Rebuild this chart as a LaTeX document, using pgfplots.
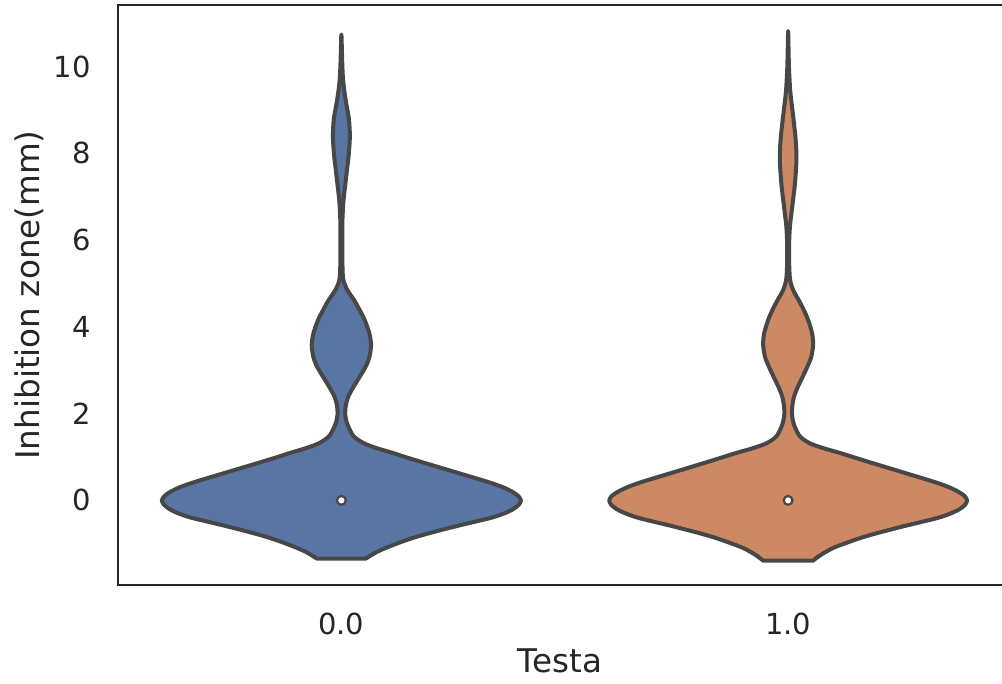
\documentclass[border=0pt]{standalone}
\usepackage{fontspec}
\setmainfont{DejaVu Sans}
\usepackage{pgfplots}
\usepackage{pgfplotstable}
\pgfplotsset{compat=1.18}
\usetikzlibrary{calc}
\definecolor{vblue}{HTML}{5875A4}
\definecolor{vorange}{HTML}{CC8963}
\definecolor{vgray}{HTML}{474747}
\definecolor{frame}{HTML}{262626}

% violin outline: right side upwards, then left side downwards (y, half width)
\pgfplotstableread{
y w
-1.34 0.0550
-1.20 0.0772
-1.10 0.0984
-1.00 0.1230
-0.90 0.1499
-0.80 0.1812
-0.70 0.2170
-0.60 0.2550
-0.50 0.2953
-0.40 0.3356
-0.30 0.3647
-0.20 0.3848
-0.10 0.3971
0.00 0.4018
0.10 0.3960
0.20 0.3826
0.30 0.3624
0.40 0.3356
0.50 0.3043
0.60 0.2718
0.70 0.2394
0.80 0.2069
0.90 0.1745
1.00 0.1432
1.10 0.1130
1.20 0.0805
1.30 0.0537
1.40 0.0369
1.50 0.0257
1.65 0.0179
1.80 0.0119
2.00 0.0085
2.20 0.0101
2.40 0.0157
2.61 0.0268
2.80 0.0380
3.07 0.0537
3.30 0.0626
3.58 0.0664
3.85 0.0626
4.16 0.0521
4.40 0.0403
4.62 0.0284
4.85 0.0134
5.08 0.0045
5.40 0.0025
6.00 0.0020
6.50 0.0025
6.93 0.0049
7.24 0.0083
7.60 0.0123
7.95 0.0163
8.39 0.0190
8.80 0.0168
9.16 0.0107
9.50 0.0058
9.80 0.0031
10.20 0.0016
10.74 0.0000
10.20 -0.0016
9.80 -0.0031
9.50 -0.0058
9.16 -0.0107
8.80 -0.0168
8.39 -0.0190
7.95 -0.0163
7.60 -0.0123
7.24 -0.0083
6.93 -0.0049
6.50 -0.0025
6.00 -0.0020
5.40 -0.0025
5.08 -0.0045
4.85 -0.0134
4.62 -0.0284
4.40 -0.0403
4.16 -0.0521
3.85 -0.0626
3.58 -0.0664
3.30 -0.0626
3.07 -0.0537
2.80 -0.0380
2.61 -0.0268
2.40 -0.0157
2.20 -0.0101
2.00 -0.0085
1.80 -0.0119
1.65 -0.0179
1.50 -0.0257
1.40 -0.0369
1.30 -0.0537
1.20 -0.0805
1.10 -0.1130
1.00 -0.1432
0.90 -0.1745
0.80 -0.2069
0.70 -0.2394
0.60 -0.2718
0.50 -0.3043
0.40 -0.3356
0.30 -0.3624
0.20 -0.3826
0.10 -0.3960
0.00 -0.4018
-0.10 -0.3971
-0.20 -0.3848
-0.30 -0.3647
-0.40 -0.3356
-0.50 -0.2953
-0.60 -0.2550
-0.70 -0.2170
-0.80 -0.1812
-0.90 -0.1499
-1.00 -0.1230
-1.10 -0.0984
-1.20 -0.0772
-1.34 -0.0550
}\violinA

\pgfplotstableread{
y w
-1.39 0.0555
-1.25 0.0740
-1.10 0.1000
-1.00 0.1250
-0.90 0.1520
-0.80 0.1830
-0.70 0.2190
-0.60 0.2570
-0.50 0.2970
-0.40 0.3360
-0.30 0.3640
-0.20 0.3840
-0.10 0.3960
0.00 0.4005
0.10 0.3950
0.20 0.3810
0.30 0.3610
0.40 0.3350
0.50 0.3040
0.60 0.2720
0.70 0.2400
0.80 0.2080
0.90 0.1760
1.00 0.1450
1.10 0.1140
1.20 0.0800
1.30 0.0520
1.40 0.0350
1.50 0.0245
1.65 0.0170
1.80 0.0115
2.00 0.0085
2.20 0.0096
2.40 0.0134
2.61 0.0213
2.80 0.0302
3.07 0.0425
3.30 0.0515
3.58 0.0559
3.85 0.0537
4.16 0.0447
4.40 0.0347
4.62 0.0235
4.85 0.0112
5.08 0.0045
5.40 0.0025
5.90 0.0022
6.31 0.0040
6.60 0.0072
6.90 0.0107
7.30 0.0152
7.85 0.0186
8.30 0.0170
8.80 0.0119
9.20 0.0072
9.47 0.0045
9.90 0.0022
10.30 0.0011
10.82 0.0000
10.30 -0.0011
9.90 -0.0022
9.47 -0.0045
9.20 -0.0072
8.80 -0.0119
8.30 -0.0170
7.85 -0.0186
7.30 -0.0152
6.90 -0.0107
6.60 -0.0072
6.31 -0.0040
5.90 -0.0022
5.40 -0.0025
5.08 -0.0045
4.85 -0.0112
4.62 -0.0235
4.40 -0.0347
4.16 -0.0447
3.85 -0.0537
3.58 -0.0559
3.30 -0.0515
3.07 -0.0425
2.80 -0.0302
2.61 -0.0213
2.40 -0.0134
2.20 -0.0096
2.00 -0.0085
1.80 -0.0115
1.65 -0.0170
1.50 -0.0245
1.40 -0.0350
1.30 -0.0520
1.20 -0.0800
1.10 -0.1140
1.00 -0.1450
0.90 -0.1760
0.80 -0.2080
0.70 -0.2400
0.60 -0.2720
0.50 -0.3040
0.40 -0.3350
0.30 -0.3610
0.20 -0.3810
0.10 -0.3950
0.00 -0.4005
-0.10 -0.3960
-0.20 -0.3840
-0.30 -0.3640
-0.40 -0.3360
-0.50 -0.2970
-0.60 -0.2570
-0.70 -0.2190
-0.80 -0.1830
-0.90 -0.1520
-1.00 -0.1250
-1.10 -0.1000
-1.25 -0.0740
-1.39 -0.0555
}\violinB

\begin{document}
\begin{tikzpicture}
\begin{axis}[
  name=ax,
  scale only axis,
  width=442pt, height=290pt,
  xmin=-0.5, xmax=1.4787,
  ymin=-1.95, ymax=11.42,
  clip=false,
  axis line style={draw=none},
  xtick={0,1}, xticklabels={0.0,1.0},
  ytick={0,2,4,6,8,10},
  major tick length=0pt,
  tick style={draw=none},
  /pgf/number format/assume math mode=true,
  tick label style={font=\fontsize{14.5}{17}\selectfont, text=frame, inner sep=0pt},
  xticklabel style={anchor=north},
  yticklabel style={anchor=east},
  xticklabel shift=14pt,
  yticklabel shift=13.5pt,
  every axis x label/.style={at={(axis description cs:0.5,-0.1086)}, anchor=north, inner sep=0pt, font=\fontsize{16.3}{19}\selectfont, text=frame},
  every axis y label/.style={at={(axis description cs:-0.1176,0.5)}, rotate=90, anchor=north, inner sep=0pt, font=\fontsize{16.3}{19}\selectfont, text=frame},
  xlabel={Testa},
  ylabel={Inhibition zone(mm)},
]
\addplot[smooth, tension=0.5, fill=vblue, draw=vgray, line width=2pt, line join=round]
  table[x expr=0+\thisrow{w}, y=y] {\violinA} -- cycle;
\addplot[smooth, tension=0.5, fill=vorange, draw=vgray, line width=2pt, line join=round]
  table[x expr=1+\thisrow{w}, y=y] {\violinB} -- cycle;
\addplot[only marks, mark=*, mark size=2.2pt, mark options={fill=white, draw=vgray, line width=1.1pt}]
  coordinates {(0,0) (1,0)};
\draw[frame, line width=1.4pt, line join=miter]
  (rel axis cs:1,1) -- (rel axis cs:0,1) -- (rel axis cs:0,0) -- (rel axis cs:1,0);
\end{axis}
\pgfresetboundingbox
\path[use as bounding box] ($(ax.south west)+(-59pt,-49.5pt)$) rectangle ($(ax.north east)+(0pt,2.5pt)$);
\end{tikzpicture}
\end{document}
